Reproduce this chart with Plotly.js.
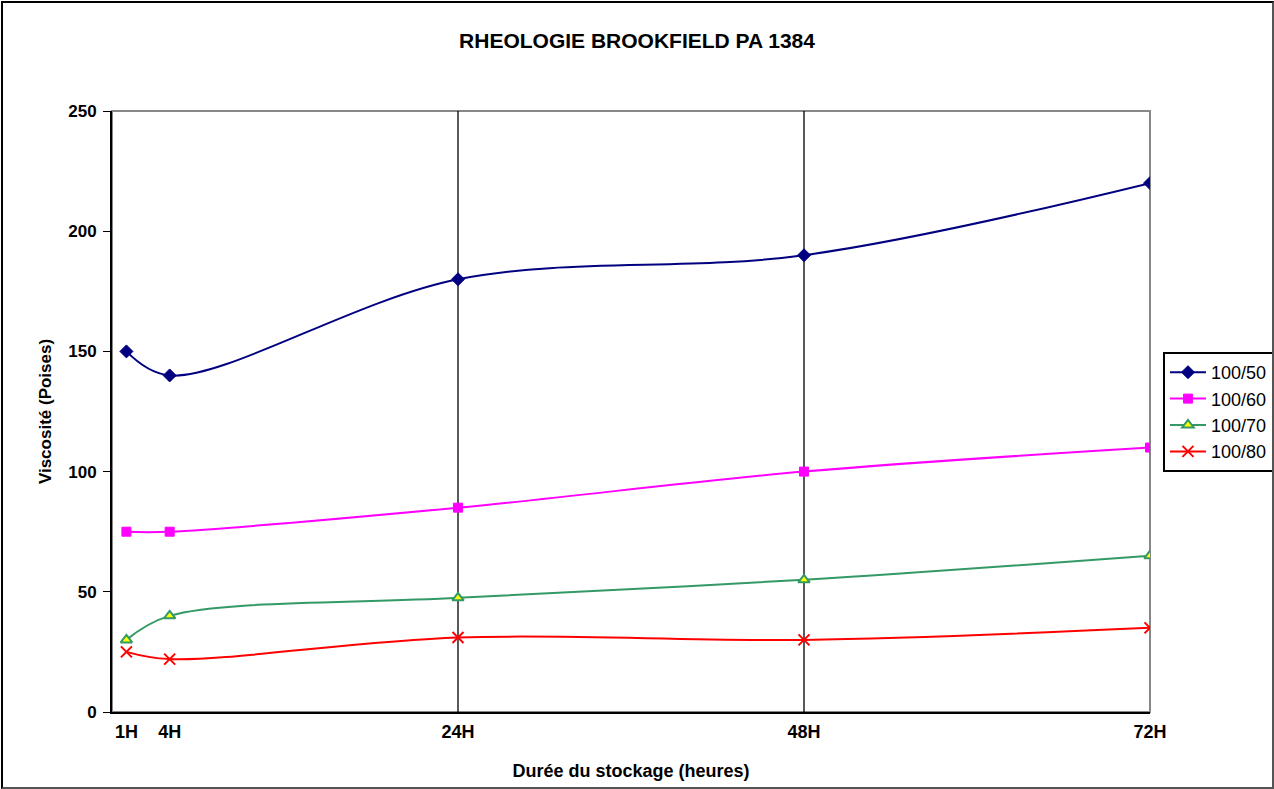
<!DOCTYPE html>
<html>
<head>
<meta charset="utf-8">
<script src="https://cdn.plot.ly/plotly-3.0.1.min.js"></script>
<style>
  body { margin: 0; padding: 0; background: #fff; }
  #wrap { position: relative; width: 1274px; height: 789px; }
  #chart { width: 1274px; height: 789px; }
  #frame { position: absolute; left: 1px; top: 1px; width: 1269px; height: 784px;
           border-top: 2px solid #000; border-left: 2px solid #000;
           border-right: 2px solid #555; border-bottom: 2px solid #555; pointer-events: none; }
</style>
</head>
<body>
<div id="wrap">
  <div id="chart"></div>
  <div id="frame"></div>
</div>
<script>
const hours = [1, 4, 24, 48, 72];
const tickLabels = ["1H", "4H", "24H", "48H", "72H"];
const gridHours = [24, 48];
const seriesNames = ["100/50", "100/60", "100/70", "100/80"];
const s100_50 = [150, 140, 180, 190, 220];
const s100_60 = [75, 75, 85, 100, 110];
const s100_70 = [30, 40, 47.5, 55, 65];
const s100_80 = [25, 22, 31, 30, 35];

const FONT = "Liberation Sans, Arial, sans-serif";

const styles = [
  {line: "#000080", marker: {symbol: "diamond", color: "#000080", size: 10, line: {color: "#000080", width: 1}}},
  {line: "#FF00FF", marker: {symbol: "square", color: "#FF00FF", size: 9, line: {color: "#FF00FF", width: 1}}},
  {line: "#339966", marker: {symbol: "triangle-up", color: "#FFFF00", size: 10, line: {color: "#339966", width: 2}}},
  {line: "#FF0000", marker: {symbol: "x-thin", color: "#FF0000", size: 11, line: {color: "#FF0000", width: 2}}}
];
const allSeries = [s100_50, s100_60, s100_70, s100_80];

const traces = allSeries.map((vals, i) => ({
  x: hours,
  y: vals,
  name: seriesNames[i],
  type: "scatter",
  mode: "lines+markers",
  line: {color: styles[i].line, width: 2, shape: "spline", smoothing: 1},
  marker: styles[i].marker
}));

const shapes = [
  {type: "rect", xref: "paper", yref: "paper", x0: 0, x1: 1, y0: 0, y1: 1,
   line: {color: "#888888", width: 2}, layer: "below"}
].concat(gridHours.map(h => ({
  type: "line", xref: "x", yref: "paper", x0: h, x1: h, y0: 0, y1: 1,
  line: {color: "#000000", width: 1.3}, layer: "below"
})));

const layout = {
  width: 1274,
  height: 789,
  margin: {l: 112, r: 124, t: 111, b: 77, autoexpand: false},
  paper_bgcolor: "#ffffff",
  plot_bgcolor: "#ffffff",
  font: {family: FONT, color: "#000"},
  title: {text: "<b>RHEOLOGIE BROOKFIELD PA 1384</b>", font: {family: FONT, size: 21, color: "#000"},
          x: 0.5, xref: "container", y: 0.949, yref: "container", yanchor: "middle"},
  xaxis: {
    range: [0, 72],
    tickvals: hours,
    ticktext: tickLabels,
    ticks: "",
    ticklabelstandoff: 2,
    showgrid: false,
    zeroline: false,
    showline: true,
    linecolor: "#000",
    linewidth: 2,
    automargin: false,
    tickfont: {family: FONT, size: 18, color: "#000", weight: "bold"},
    title: {text: "<b>Durée du stockage (heures)</b>", font: {family: FONT, size: 18, color: "#000"}, standoff: 24}
  },
  yaxis: {
    range: [0, 250],
    tickvals: [0, 50, 100, 150, 200, 250],
    ticks: "outside",
    ticklen: 7,
    tickwidth: 1,
    tickcolor: "#000",
    ticklabelstandoff: 3,
    showgrid: false,
    zeroline: false,
    showline: true,
    linecolor: "#000",
    linewidth: 2,
    automargin: false,
    tickfont: {family: FONT, size: 17, color: "#000", weight: "bold"},
    title: {text: "<b>Viscosité (Poises)</b>", font: {family: FONT, size: 17, color: "#000"}, standoff: 12}
  },
  showlegend: true,
  legend: {
    x: 1.0125, xanchor: "left",
    y: 0.599, yanchor: "top",
    bgcolor: "#ffffff",
    bordercolor: "#000",
    borderwidth: 2,
    font: {family: FONT, size: 18, color: "#000"},
    itemwidth: 36,
    tracegroupgap: 0
  },
  shapes: shapes
};

Plotly.newPlot("chart", traces, layout, {displayModeBar: false, staticPlot: true});
</script>
</body>
</html>
